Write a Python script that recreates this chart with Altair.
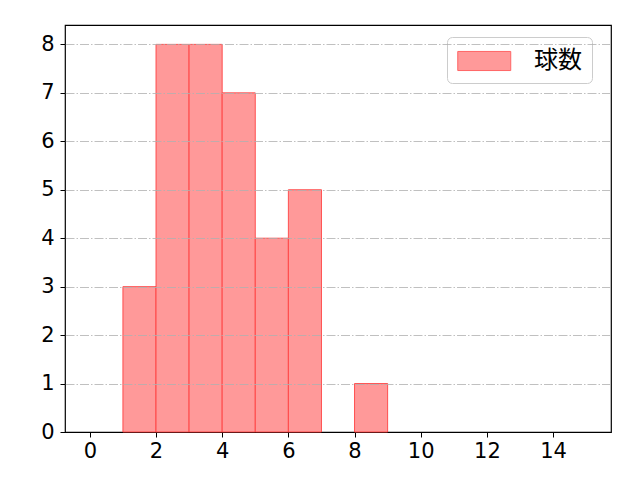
import altair as alt
import pandas as pd

bin_start = [1, 2, 3, 4, 5, 6, 8]
counts = [3, 8, 8, 7, 4, 5, 1]
series_name = "球数"

df = pd.DataFrame({
    "start": bin_start,
    "end": [b + 1 for b in bin_start],
    "count": counts,
    "series": [series_name] * len(counts),
})

num_font = "DejaVu Sans"
jp_font = "Noto Sans CJK JP"

bars = alt.Chart(df).mark_rect(
    fill="#ff9999", stroke="#ff3b3b", strokeWidth=1, strokeOpacity=0.85
).encode(
    x=alt.X("start:Q", scale=alt.Scale(domain=[-0.75, 15.75], nice=False, zero=False),
            axis=alt.Axis(values=list(range(0, 16, 2)), title=None, grid=False,
                          labelFontSize=21, labelFont=num_font, labelColor="black",
                          tickColor="black", tickSize=5, domain=False, labelPadding=3)),
    x2="end:Q",
    y=alt.Y("count:Q", scale=alt.Scale(domain=[0, 8.4], nice=False),
            axis=alt.Axis(values=list(range(0, 9)), title=None, grid=True,
                          gridColor="#b0b0b0", gridDash=[9, 2, 1.5, 2], gridWidth=0.8,
                          gridOpacity=alt.condition("datum.value == 0", alt.value(0), alt.value(1)),
                          labelFontSize=21, labelFont=num_font, labelColor="black",
                          tickColor="black", tickSize=5, domain=False, zindex=1,
                          labelPadding=6)),
    y2=alt.datum(0),
    color=alt.Color("series:N", scale=alt.Scale(range=["#ff9999"]),
                    legend=alt.Legend(title=None, orient="none", legendX=382, legendY=12,
                                      symbolType="M-1,-0.72L3,-0.72L3,0.72L-1,0.72Z",
                                      symbolSize=702,
                                      symbolStrokeColor="#ff6666", symbolStrokeWidth=1,
                                      labelFontSize=24, labelFont=jp_font, labelColor="black",
                                      padding=10, strokeColor="#cccccc", cornerRadius=5,
                                      fillColor="white", labelOffset=49)),
)

chart = bars.properties(
    width=546, height=407,
    autosize=alt.AutoSizeParams(type="none"),
    padding={"left": 57, "top": 17, "right": 21, "bottom": 40},
    background="white",
).configure_view(stroke="black", strokeWidth=1.2)

chart.save("out.html", embed_options={"renderer": "svg", "actions": False})
